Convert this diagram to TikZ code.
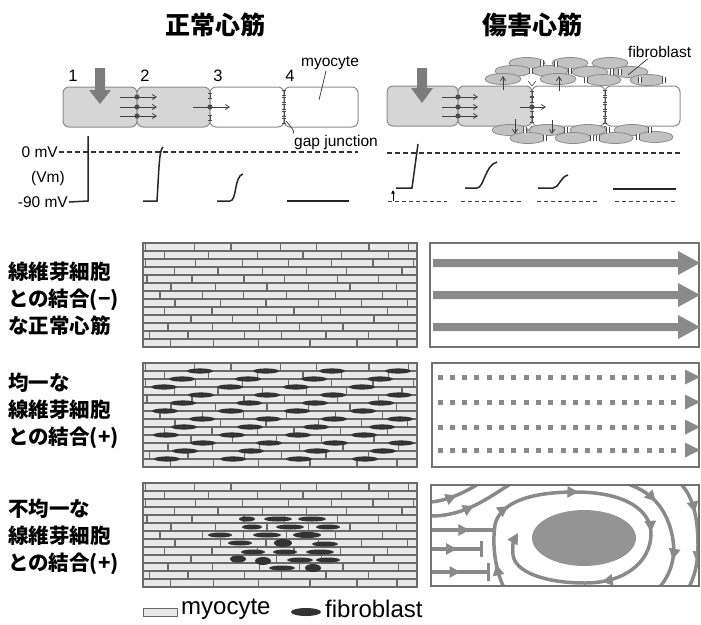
\documentclass[tikz,border=0pt]{standalone}
\usepackage{fontspec}
\setmainfont{Liberation Sans}
\newfontfamily\jpfont{Noto Sans CJK JP}
\usetikzlibrary{arrows.meta,decorations.markings}
\definecolor{cellgray}{HTML}{D6D6D6}
\definecolor{cellline}{HTML}{8C8C8C}
\definecolor{arrowgray}{HTML}{7C7C7C}
\definecolor{fibgray}{HTML}{C2C2C2}
\definecolor{brickfill}{HTML}{E9E9E9}
\definecolor{brickline}{HTML}{6A6A6A}
\definecolor{flowgray}{HTML}{8A8A8A}

% brick wall of myocytes, 274 x 104, top left corner at #1,#2
\newcommand{\brickwall}[2]{%
  \begin{scope}[shift={(#1,#2)}]
    \fill[brickfill] (0,0) rectangle (274,104);
    \begin{scope}
      \clip (0,0) rectangle (274,104);
      \pgfmathsetseed{11}
      \foreach \r in {0,...,12}{
        \pgfmathsetmacro{\off}{mod(\r*23,41)}
        \foreach \k in {0,...,6}{
          \pgfmathsetmacro{\jx}{\off+\k*45+rnd*14-7}
          \draw[wall] (\jx,\r*8) -- (\jx,\r*8+8);
        }
      }
    \end{scope}
    \foreach \r in {1,...,12} \draw[wall] (0,\r*8) -- (274,\r*8);
    \draw[wall, line width=1.8] (0,0) rectangle (274,104);
  \end{scope}}

% gap junction tick
\newcommand{\gj}[2]{\draw[gjline] (#1-2,#2-2.5) -- (#1+2,#2-2.5) (#1,#2-2.5) -- (#1,#2+2.5) (#1-2,#2+2.5) -- (#1+2,#2+2.5);}
% junction between fibroblasts
\newcommand{\fj}[2]{\fill[white] (#1-1.3,#2-2.8) rectangle (#1+1.3,#2+2.8);
  \draw[gjline] (#1-1.3,#2-2.8) -- (#1-1.3,#2+2.8) (#1+1.3,#2-2.8) -- (#1+1.3,#2+2.8);}

\begin{document}
\begin{tikzpicture}[x=1pt,y=-1pt,
    title/.style={font=\jpfont\bfseries\fontsize{25}{25}\selectfont},
    rowlbl/.style={anchor=west, align=left, inner sep=0pt, font=\jpfont\bfseries\fontsize{20.5}{27}\selectfont},
    lbl/.style={inner sep=1pt, font=\fontsize{15.5}{16}\selectfont},
    num/.style={inner sep=0pt, font=\fontsize{16.5}{17}\selectfont},
    cell/.style={draw=cellline, line width=1, rounded corners=6},
    fibcell/.style={fill=fibgray, draw=cellline, line width=0.8},
    bigarrow/.style={fill=arrowgray},
    sig/.style={draw=black!75, line width=0.8, -{Straight Barb[length=4pt,width=5pt]}},
    jdot/.style={fill=black!70},
    gjline/.style={draw=black!70, line width=0.6},
    pointer/.style={draw=black!80, line width=0.7},
    zero/.style={draw=black!80, line width=1.1, dash pattern=on 5pt off 3pt},
    rest/.style={draw=black!75, line width=0.9, dash pattern=on 4pt off 3pt},
    trace/.style={draw=black!85, line width=1.5},
    wall/.style={draw=brickline, line width=1.4},
    fibro/.style={fill=black!80},
    frame/.style={draw=black!55, line width=1.6},
    flow/.style={draw=flowgray, line width=3.5},
    flowmark/.style={postaction={decorate, decoration={markings,
        mark=at position #1 with {\arrow{Triangle[length=11pt,width=11pt]}}}}},
  ]
\useasboundingbox (0,0) rectangle (701,624);

% Titles
\node[title] (tnorm) at (215,25) {正常心筋};
\node[title] (tinj) at (532,25) {傷害心筋};

% Normal strand of four myocytes
\draw[cell, fill=cellgray] (63,87) rectangle (137,127);
\draw[cell, fill=cellgray] (137,87) rectangle (210,127);
\draw[cell, fill=white] (210,87) rectangle (284,127);
\draw[cell, fill=white] (284,87) rectangle (358,127);
\node[num] (n1) at (73,76) {1};
\node[num] (n2) at (145,76) {2};
\node[num] (n3) at (218,76) {3};
\node[num] (n4) at (290,76) {4};
\fill[bigarrow] (95,68) -- (105,68) -- (105,90) -- (111,90) -- (100,104) -- (89,90) -- (95,90) -- cycle;
\foreach \y in {97,107,116}{
  \draw[sig] (120,\y) -- (157,\y);
  \fill[jdot] (137,\y) circle (2.6);
}
\draw[sig] (193,107) -- (230,107);
\fill[jdot] (210,107) circle (2.6);
\gj{210}{96} \gj{210}{118}
\foreach \y in {93,100,107,114,121} {\gj{284}{\y}}

% Labels
\node[lbl, anchor=west] (myo) at (300,63) {myocyte};
\coordinate (myopt) at (319,100);
\draw[pointer] ([xshift=-4pt]myo.south) -- (myopt);
\node[lbl, anchor=west] (gap) at (293,142) {gap junction};
\coordinate (gappt) at (286,121);
\draw[pointer] (gap.north west) .. controls (296,132) and (290,126) .. (gappt);

% Membrane potential, normal
\node[lbl, anchor=east] (mv0) at (59,152) {0 mV};
\node[lbl] (vm) at (48,178) {(Vm)};
\node[lbl, anchor=east] (mv90) at (69,202) {-90 mV};
\coordinate (z0) at (358,153);
\draw[zero] (mv0.east) -- (z0 |- mv0.east);
\draw[trace] (mv90.east) -- (88,201) -- (88,136);
\draw[trace] (143,201) -- (157,201) .. controls (159,170) and (159,150) .. (163,147);
\draw[trace] (217,201) -- (230,201) .. controls (237,201) and (234,176) .. (243,174);
\draw[trace] (287,201) -- (349,201);

% Injured strand with fibroblasts
\draw[cell, fill=cellgray] (387,86) rectangle (458,126);
\draw[cell, fill=cellgray] (458,86) rectangle (532,126);
\draw[cell, fill=white] (532,86) rectangle (605,126);
\draw[cell, fill=white] (605,86) rectangle (680,126);
\fill[bigarrow] (417,68) -- (427,68) -- (427,88) -- (433,88) -- (422,103) -- (411,88) -- (417,88) -- cycle;
\foreach \y in {97,107,116}{
  \draw[sig] (442,\y) -- (478,\y);
  \fill[jdot] (458,\y) circle (2.6);
}
\draw[sig] (520,107) -- (546,107);
\fill[jdot] (532,107) circle (2.6);
\gj{532}{94} \gj{532}{100} \gj{532}{114} \gj{532}{120}
\foreach \y in {93,100,107,114,121} {\gj{605}{\y}}
\foreach \x in {532,605}{
  \draw[gjline] (\x,86) -- (\x-4,81) (\x,86) -- (\x+4,81);
  \draw[gjline] (\x,126) -- (\x-4,131) (\x,126) -- (\x+4,131);
}
\foreach \fx/\fy in {527/63, 570/63, 610/63, 513/71, 550/71, 590/72, 630/72, 503/79, 558/79, 603/80, 648/80}
  {\filldraw[fibcell] (\fx,\fy) ellipse [x radius=18, y radius=5.5];}
\foreach \fx/\fy in {510/130, 547/130, 588/130, 632/130, 528/138, 573/138, 615/138, 655/137}
  {\filldraw[fibcell] (\fx,\fy) ellipse [x radius=18, y radius=5.5];}
\foreach \fx/\fy in {542/63, 556/64, 531/71, 570/71, 612/72, 620/72,
    586/80, 640/80, 664/80,
    525/130, 566/130, 608/130, 650/130,
    545/138, 592/138, 598/138, 638/137}
  {\fj{\fx}{\fy}}
\draw[sig] (503,90) -- (503,76);
\draw[sig] (559,91) -- (559,76);
\draw[sig] (515,119) -- (515,134);
\draw[sig] (552,120) -- (552,134);
\node[lbl, anchor=west] (fib) at (627,52) {fibroblast};
\coordinate (fibpt) at (628,75);
\draw[pointer] ([xshift=-12pt]fib.south) -- (fibpt);

% Membrane potential, injured
\coordinate (z1) at (387,153);
\coordinate (z2) at (680,153);
\draw[zero] (z1) -- (z2);
\foreach \a/\b in {388/447, 461/521, 537/597, 615/675}
  {\draw[rest] (\a,201) -- (\b,201);}
\draw[draw=black, line width=1, -{Latex[length=3.5pt,width=4pt]}] (393,201) -- (393,190);
\draw[trace] (396,188) -- (412,188) -- (418,144);
\draw[trace] (465,188) -- (477,188) .. controls (484,188) and (485,165) .. (497,162);
\draw[trace] (538,188) -- (553,188) .. controls (559,188) and (560,177) .. (568,175);
\draw[trace] (613,189) -- (676,189);

% Row labels
\node[rowlbl] (lab1) at (8,299) {線維芽細胞\\との結合(−)\\な正常心筋};
\node[rowlbl] (lab2) at (8,411) {均一な\\線維芽細胞\\との結合(+)};
\node[rowlbl] (lab3) at (8,537) {不均一な\\線維芽細胞\\との結合(+)};

% Tissue: no fibroblasts
\brickwall{143}{243}
% Tissue: evenly spread fibroblasts
\brickwall{143}{363}
\foreach \r in {1,...,12}{
  \pgfmathsetmacro{\fo}{mod(\r*37,55)}
  \foreach \k in {0,...,3}
    {\fill[fibro] ({163+\fo+\k*66},{363+\r*8}) ellipse [x radius=13, y radius=2.6];}
}
% Tissue: fibroblast patch
\brickwall{143}{483}
\foreach \fx/\fy/\rx/\ry in {247/519/8/2.5, 278/519/14/2.5, 312/519/14/2.5, 252/527/10/2.5, 290/527/14/2.5,
    328/527/12/2.5, 220/535/12/2.5, 267/535/14/2.5, 307/535/14/3, 240/543/12/2.5, 283/543/9/4,
    325/544/13/2.5, 253/552/12/2.5, 285/552/12/2.5, 320/552/14/2.5, 238/559/8/3.5, 263/561/8/4,
    300/560/13/2.5, 328/560/12/2.5, 282/568/13/2.5, 313/568/8/4}
  {\fill[fibro] (\fx,\fy) ellipse [x radius=\rx, y radius=\ry];}

% Conduction: straight
\draw[frame] (430,243) rectangle (699,347);
\foreach \y in {263,295,327}
  {\fill[flowgray] (433,\y-4) -- (678,\y-4) -- (678,\y-12) -- (700,\y) -- (678,\y+12) -- (678,\y+4) -- (433,\y+4) -- cycle;}

% Conduction: slowed
\draw[frame] (432,363) rectangle (699,467);
\foreach \y in {377,402,427,450}{
  \foreach \k in {0,...,19}
    {\fill[flowgray] ({437.5+\k*12.3},\y-2.5) rectangle ++(5,5);}
  \fill[flowgray] (685,\y-7.5) -- (700,\y) -- (685,\y+7.5) -- cycle;
}

% Conduction: block and re-entry
\begin{scope}
  \clip (431,485) rectangle (699,586);
  \fill[black!42] (584,538) ellipse [x radius=52, y radius=28];
  \draw[flow, flowmark=0.5] (431,502) .. controls (450,500) and (465,492) .. (480,483);
  \draw[flow, flowmark=0.5] (431,516) .. controls (465,516) and (488,498) .. (512,483);
  \draw[flow, flowmark=0.6] (431,530) -- (495,530);
  \draw[flow, flowmark=0.06, flowmark=0.2, flowmark=0.36, flowmark=0.56, flowmark=0.73,
        -{Triangle[length=11pt,width=11pt]}]
    (505,590) .. controls (495,570) and (492,545) .. (495,525) .. controls (499,505) and (525,492) .. (575,492)
    .. controls (628,492) and (652,512) .. (651,535) .. controls (650,562) and (625,583) .. (585,583)
    .. controls (545,583) and (515,572) .. (513,555) .. controls (512,545) and (514,540) .. (518,533);
  \draw[flow, flowmark=0.28, flowmark=0.75] (624,483) .. controls (650,490) and (668,508) .. (673,540) .. controls (676,562) and (668,578) .. (658,589);
  \draw[flow, flowmark=0.3, flowmark=0.75] (680,483) .. controls (692,495) and (698,515) .. (698,545) .. controls (698,565) and (694,578) .. (688,589);
  \draw[flow, flowmark=0.5, -{Bar[width=16pt]}] (431,549) -- (483,549);
  \draw[flow, flowmark=0.5, -{Bar[width=18pt]}] (431,572) -- (490,572);
\end{scope}
\draw[frame] (431,485) rectangle (699,586);

% Legend
\draw[draw=black!60, fill=brickfill, line width=1] (143,608) rectangle (177,616);
\node[anchor=west, inner sep=0pt, font=\fontsize{24}{24}\selectfont] (lmyo) at (181,609) {myocyte};
\fill[fibro] (306,612) ellipse [x radius=15, y radius=4];
\node[anchor=west, inner sep=0pt, font=\fontsize{24}{24}\selectfont] (lfib) at (325,609) {fibroblast};
\end{tikzpicture}
\end{document}
